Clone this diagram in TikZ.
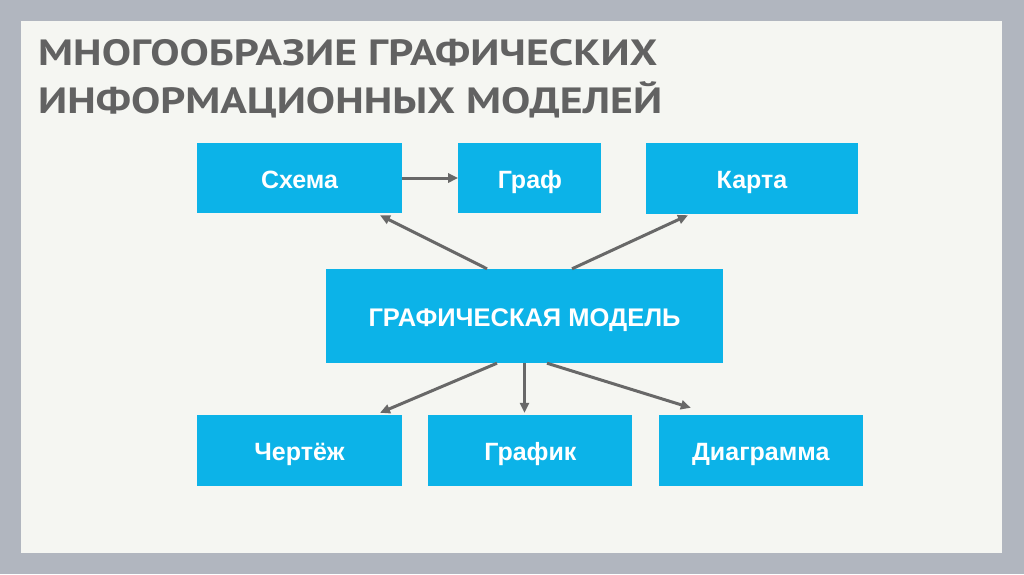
\documentclass[tikz,border=0pt]{standalone}
\usepackage{fontspec}
\setmainfont{Liberation Sans}
\newfontfamily\titlefont[FakeStretch=1.2]{PT Sans}
\usepackage{tikz}
\usetikzlibrary{arrows.meta, positioning}
\definecolor{framegray}{HTML}{B1B6BF}
\definecolor{slidebg}{HTML}{F5F6F2}
\definecolor{boxcyan}{HTML}{0CB3E8}
\definecolor{titlegray}{HTML}{626262}
\definecolor{arrowgray}{HTML}{686868}
\tikzset{
  box/.style={rectangle,fill=boxcyan,text=white,align=center,inner sep=0pt,
    text height=24pt,text depth=4pt,font=\fontsize{25}{28}\selectfont\bfseries},
  line/.style={-{Triangle[length=10pt,width=9pt]},draw=arrowgray,line width=3pt}
}

\begin{document}
\begin{tikzpicture}[x=1pt,y=-1pt]
\useasboundingbox (0,0) rectangle (1024,574);
\fill[framegray] (0,0) rectangle (1024,574);
\fill[slidebg] (21,21) rectangle (1002,553);
\node[anchor=base west,text=titlegray,align=left,inner sep=0pt,
  font=\titlefont\fontsize{36.5}{48}\selectfont\bfseries] (title) at (38,113)
  {МНОГООБРАЗИЕ ГРАФИЧЕСКИХ\\ИНФОРМАЦИОННЫХ МОДЕЛЕЙ};
\node[box, minimum width=205pt, minimum height=70pt] (schema) at (299.5,178) {Схема};
\node[box, minimum width=143pt, minimum height=70pt, right=56pt of schema] (graf) {Граф};
\node[box, minimum width=212pt, minimum height=71pt] (karta) at (752,178.5) {Карта};
\node[box, minimum width=397pt, minimum height=94pt, font=\fontsize{25.5}{28}\selectfont\bfseries] (model) at (524.5,316) {ГРАФИЧЕСКАЯ МОДЕЛЬ};
\node[box, minimum width=205pt, minimum height=71pt] (chertezh) at (299.5,450.5) {Чертёж};
\node[box, minimum width=204pt, minimum height=71pt, right=26pt of chertezh] (grafik) {График};
\node[box, minimum width=204pt, minimum height=71pt, right=26pt of grafik] (diagramma) {Диаграмма};
\draw[line] (schema.east) -- (graf.west);
\draw[line] ([xshift=-37.5pt]model.north) -- ([xshift=80.5pt,yshift=-2pt]schema.south);
\draw[line] ([xshift=47.5pt]model.north) -- ([xshift=-64pt,yshift=-1pt]karta.south);
\draw[line] ([xshift=-27.5pt]model.south) -- ([xshift=80.5pt,yshift=2pt]chertezh.north);
\draw[line] (model.south) -- ([yshift=2pt]model.south |- grafik.north);
\draw[line] ([xshift=22.5pt]model.south) -- ([xshift=-70pt,yshift=7pt]diagramma.north);
\end{tikzpicture}
\end{document}
